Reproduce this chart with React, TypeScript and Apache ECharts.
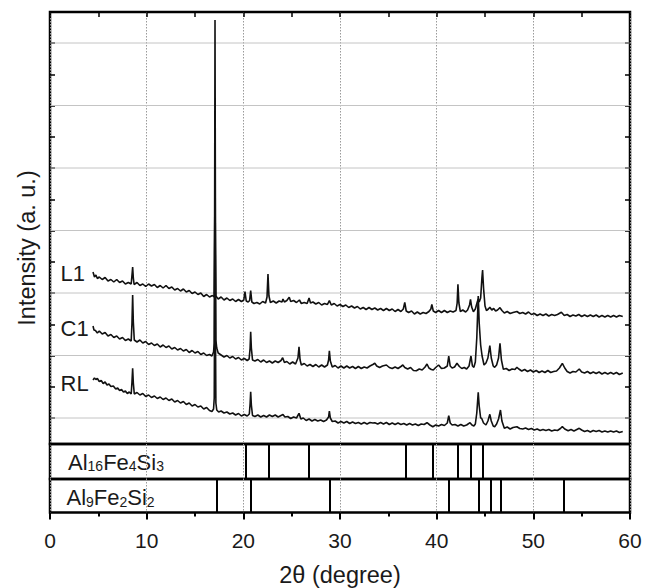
import React, { useEffect, useRef } from "react";
import * as echarts from "echarts";

// 2θ (degree) vs intensity (a.u., lowest gridline = 0, gridline step = 62.5)
const L1: [number, number][] = [
  [4.45,146],[4.6,141],[4.75,143],[4.9,139.5],[5.1,141],[5.4,138.5],[5.7,140.5],[6.0,137],[6.3,138.5],[6.6,136],
  [6.9,138.5],[7.2,135.5],[7.5,137],[7.8,134],[8.1,135.5],[8.4,134],[8.5,145],[8.55,151],[8.62,140],[8.7,133.5],
  [9.0,135.5],[9.3,132.5],[9.6,134],[9.9,131.5],[10.2,134],[10.5,132],[10.8,133.5],[11.1,130.5],[11.4,132.5],[11.7,130],
  [12.0,132.5],[12.3,129.5],[12.6,131],[12.9,128],[13.2,129.5],[13.5,127],[13.8,129],[14.1,126],[14.4,127.5],[14.7,124.5],
  [15.0,126],[15.3,123.5],[15.6,125],[15.9,121.5],[16.2,123.5],[16.5,121],[16.8,122.5],[16.98,121],[17.03,180],[17.07,234],
  [17.11,170],[17.16,122],[17.4,119],[17.7,121],[18.0,118],[18.3,120],[18.6,117.5],[18.9,119],[19.2,116.5],[19.5,118.5],
  [19.8,116.5],[20.05,118],[20.17,126.3],[20.3,117],[20.5,116],[20.65,117.5],[20.76,127.3],[20.88,116],[21.1,114.5],[21.4,115.5],
  [21.7,114],[22.0,116.5],[22.3,115],[22.45,121],[22.55,144],[22.65,122],[22.8,115.5],[23.1,117],[23.4,115],[23.7,117],
  [24.0,116],[24.1,119],[24.25,116],[24.5,117.5],[24.75,120.7],[24.9,116.5],[25.2,117.5],[25.5,115.5],[25.8,118],[26.0,114.5],
  [26.3,115.5],[26.6,114.5],[26.8,120],[26.95,115],[27.2,116],[27.5,114],[27.8,115.5],[28.1,113],[28.4,114.5],[28.7,113.5],
  [28.9,117.3],[29.1,113],[29.4,114.5],[29.7,112],[30.0,113.5],[30.3,111.5],[30.6,113],[30.9,110.5],[31.2,112],[31.5,110],
  [31.8,111.5],[32.1,109],[32.4,110.5],[32.7,108.5],[33.0,110.5],[33.3,108.5],[33.6,110],[33.9,108],[34.2,109.5],[34.5,107.5],
  [34.8,109.5],[35.1,107.5],[35.4,109],[35.7,106.5],[36.0,108.5],[36.3,106.5],[36.55,109],[36.7,115.7],[36.85,107],[37.1,105.5],
  [37.4,107],[37.7,104],[38.0,106],[38.3,104],[38.6,105.5],[38.9,104.5],[39.2,106.5],[39.4,109],[39.5,113.7],[39.65,107],
  [39.9,105.5],[40.2,107.5],[40.5,105.5],[40.8,107.5],[41.1,105.5],[41.4,107],[41.7,106],[42.0,107.5],[42.12,115],[42.2,133.7],
  [42.3,115],[42.45,106.5],[42.7,108],[43.0,106],[43.2,108],[43.4,113],[43.5,118.7],[43.62,111],[43.8,106.3],[44.0,109],
  [44.2,116],[44.3,119],[44.4,116],[44.55,120],[44.68,140],[44.75,148],[44.85,130],[45.0,112],[45.15,107.5],[45.35,109],
  [45.5,110.7],[45.7,108],[45.9,109.5],[46.1,107],[46.3,108],[46.55,110.3],[46.75,107.5],[47.0,105],[47.3,106.5],[47.6,104.5],
  [47.9,105.5],[48.3,106.5],[48.6,104.5],[48.9,105.5],[49.2,104],[49.5,106],[49.8,103.5],[50.1,104.5],[50.4,102.5],[50.7,104],
  [51.0,102.5],[51.3,104],[51.6,102],[51.9,103.5],[52.2,102.5],[52.5,103.5],[52.9,105.7],[53.2,102.5],[53.5,103.5],[53.8,101.5],
  [54.1,103],[54.4,102],[54.7,103.5],[55.0,101.5],[55.3,103],[55.6,101.5],[55.9,103],[56.2,101.5],[56.5,103],[56.8,101],
  [57.1,102.5],[57.4,101],[57.7,102.5],[58.0,101],[58.3,102.5],[58.6,101],[58.9,102.5],[59.25,101.5]
];

const C1: [number, number][] = [
  [4.45,92],[4.55,88],[4.7,87.5],[4.9,85],[5.1,87],[5.4,84],[5.7,85.5],[6.0,82],[6.3,83.5],[6.6,80.5],
  [6.9,82],[7.2,79],[7.5,80.5],[7.8,77.5],[8.1,79],[8.4,77],[8.48,95],[8.55,123],[8.62,96],[8.72,78],
  [9.0,76],[9.3,78],[9.6,75],[9.9,76.5],[10.2,73.5],[10.5,75],[10.8,72.5],[11.1,74],[11.4,71],[11.7,73],
  [12.0,70.5],[12.3,72],[12.6,69],[12.9,70.5],[13.2,68],[13.5,69.5],[13.8,67],[14.1,68.5],[14.4,65.5],[14.7,67.5],
  [15.0,65],[15.3,66.5],[15.6,63.5],[15.9,65],[16.2,62.5],[16.5,63.5],[16.75,62],[16.92,66],[16.99,75],[17.03,200],
  [17.07,398],[17.11,220],[17.16,78],[17.25,70],[17.4,65],[17.7,63],[18.0,61],[18.3,62.5],[18.6,60],[18.9,61.5],
  [19.2,59],[19.5,60.5],[19.8,58],[20.1,59.5],[20.4,57.5],[20.6,59],[20.7,70],[20.76,86.3],[20.83,70],[20.95,58],
  [21.2,57],[21.5,58.5],[21.8,56],[22.1,58],[22.4,55.5],[22.7,57],[23.0,55],[23.3,57],[23.6,55.5],[23.9,57.5],
  [24.07,60.3],[24.25,55.5],[24.5,56.5],[24.8,54],[25.1,56],[25.4,54],[25.65,60],[25.76,71.3],[25.87,58],[26.0,53],
  [26.3,54.5],[26.6,52],[26.9,53.5],[27.2,51.5],[27.5,53.5],[27.8,51],[28.1,53],[28.4,51],[28.7,53],[28.82,58],
  [28.9,67.3],[29.0,57],[29.2,51],[29.5,52.5],[29.8,50],[30.1,52],[30.4,50],[30.7,52],[31.0,50],[31.3,51.5],
  [31.6,49.5],[31.9,51.5],[32.2,49.5],[32.5,51],[32.8,50],[33.1,52],[33.4,53.5],[33.6,54.7],[33.8,52],[34.1,50.5],
  [34.4,52],[34.8,53],[35.1,50.5],[35.4,49.5],[35.7,51],[36.0,49.5],[36.3,51.5],[36.5,53],[36.7,50.5],[37.0,49],
  [37.3,50.5],[37.6,47.5],[37.9,47.3],[38.2,49],[38.5,48],[38.8,51],[39.0,54],[39.2,50],[39.45,48.5],[39.65,48],
  [39.9,50.5],[40.2,53],[40.5,49.5],[40.8,50],[41.1,52],[41.25,62],[41.4,52],[41.6,50],[41.85,51],[42.1,54.7],
  [42.35,51.5],[42.6,49.5],[42.85,50.5],[43.1,49],[43.35,52],[43.55,62],[43.7,52],[43.85,50.7],[44.0,56],[44.15,80],
  [44.3,122],[44.4,95],[44.55,73],[44.7,62],[44.9,53],[45.1,55],[45.3,60],[45.5,72.3],[45.65,60],[45.85,52],
  [46.0,50.7],[46.2,53],[46.4,60],[46.55,74.7],[46.7,58],[46.9,48.7],[47.2,49.5],[47.5,47.5],[47.8,49],[48.1,48.5],
  [48.3,50.7],[48.5,49],[48.8,47],[49.1,48.5],[49.4,46.5],[49.7,48],[50.0,46],[50.3,47.5],[50.6,45.5],[50.9,47],
  [51.2,45.5],[51.5,47.5],[51.8,45.5],[52.1,46.5],[52.4,47],[52.7,50],[53.0,54.7],[53.25,50],[53.5,46.5],[53.8,45],
  [54.1,46.5],[54.4,46],[54.75,49],[55.0,46],[55.3,45],[55.6,46.5],[55.9,44.5],[56.2,46],[56.5,44.5],[56.8,46],
  [57.1,44],[57.4,45.5],[57.7,44],[58.0,45.5],[58.3,44],[58.6,45.5],[58.9,43.5],[59.25,45]
];

const RL: [number, number][] = [
  [4.45,38],[4.6,40],[4.75,38.5],[4.9,39.5],[5.1,36.5],[5.3,37.5],[5.5,34.5],[5.7,36],[5.9,33],[6.1,34],
  [6.3,31.5],[6.55,32],[6.8,29],[7.0,30],[7.2,27.5],[7.4,28.5],[7.6,26],[7.8,27],[8.0,24.5],[8.2,26],
  [8.4,24],[8.48,36],[8.55,49.7],[8.62,35],[8.72,24],[9.0,25.5],[9.3,23],[9.6,24.5],[9.9,21.5],[10.2,23],
  [10.5,20.5],[10.8,22],[11.1,19.5],[11.4,21],[11.7,18.5],[12.0,20],[12.3,17.5],[12.6,19],[12.9,16],[13.2,17.5],
  [13.5,15],[13.8,16.5],[14.1,13.5],[14.4,15],[14.7,12],[15.0,13.5],[15.3,11],[15.6,12],[15.9,9],[16.2,10.5],
  [16.5,7.5],[16.75,6.5],[16.92,9],[16.99,20],[17.03,110],[17.07,158],[17.11,100],[17.16,15],[17.25,8],[17.45,6],
  [17.7,7],[18.0,5],[18.3,6],[18.6,4],[18.9,5],[19.2,3],[19.5,4.5],[19.8,2],[20.1,3.5],[20.4,2],
  [20.62,4],[20.7,14],[20.76,26.3],[20.83,13],[20.95,2.5],[21.2,1.5],[21.5,3],[21.8,1],[22.1,2.5],[22.4,1],
  [22.7,3],[23.0,1.5],[23.3,3],[23.6,1],[23.9,2.5],[24.1,3.5],[24.3,1],[24.6,1.5],[24.9,-0.5],[25.2,1],
  [25.5,0],[25.76,4.7],[25.95,-1],[26.2,0],[26.5,-2.5],[26.8,-1],[27.1,-3],[27.4,-1.5],[27.7,-3],[28.0,-2],
  [28.3,-3.5],[28.6,-2],[28.82,1],[28.9,7],[29.0,0],[29.2,-3.5],[29.5,-3],[29.8,-5],[30.1,-3.5],[30.4,-5],
  [30.7,-3.5],[31.0,-5.5],[31.3,-4],[31.6,-5.5],[31.9,-4.5],[32.2,-6],[32.5,-4.5],[32.8,-6],[33.1,-4.5],[33.4,-5],
  [33.6,-4.7],[33.9,-6],[34.2,-4.5],[34.5,-6],[34.8,-4.5],[35.1,-6.5],[35.4,-5],[35.7,-6.5],[36.0,-5],[36.3,-6.5],
  [36.6,-5.5],[36.9,-7],[37.2,-5.5],[37.5,-7],[37.8,-6],[38.1,-7.5],[38.4,-6],[38.7,-6.5],[39.0,-4.7],[39.3,-7],
  [39.6,-8.7],[39.9,-7],[40.2,-8],[40.5,-6.5],[40.8,-7.5],[41.1,-5],[41.25,2.3],[41.4,-5],[41.6,-7],[41.9,-6.5],
  [42.2,-8],[42.5,-6.5],[42.8,-8],[43.1,-7],[43.45,-4.7],[43.65,-7],[43.85,-8],[44.0,-6],[44.15,5],[44.3,25.7],
  [44.4,12],[44.55,0],[44.65,-0.3],[44.85,-5],[45.1,-7],[45.3,-3],[45.5,3.7],[45.65,-3],[45.85,-8],[46.0,-8.7],
  [46.2,-6],[46.4,-1],[46.6,8],[46.75,-3],[47.0,-10.3],[47.3,-9],[47.6,-11],[47.9,-9.5],[48.3,-8.7],[48.6,-10.5],
  [48.9,-11],[49.2,-10],[49.5,-11.5],[49.8,-10.5],[50.1,-12],[50.4,-11],[50.7,-12.5],[51.0,-11.5],[51.3,-12.5],[51.6,-11.5],
  [51.9,-13],[52.2,-12],[52.5,-12.5],[52.8,-10.5],[53.0,-8.7],[53.25,-11],[53.6,-12.7],[53.9,-11.5],[54.2,-13],[54.5,-11.5],
  [54.75,-10.3],[55.0,-12],[55.3,-13.5],[55.6,-12.5],[55.9,-14],[56.2,-12.5],[56.5,-13.5],[56.8,-12.5],[57.1,-14],[57.4,-13],
  [57.7,-14],[58.0,-13],[58.3,-14],[58.6,-13],[58.9,-14.5],[59.25,-13.5]
];

const traceNames = ["L1", "C1", "RL"];
// reference line positions (2θ) of the two phases
const Al16Fe4Si3 = [20.2, 22.6, 26.8, 36.8, 39.6, 42.2, 43.5, 44.8];
const Al9Fe2Si2 = [17.2, 20.8, 28.9, 41.3, 44.35, 45.55, 46.6, 53.1];
const yMin = -26;
const yMax = 406;
const yGridValues = [0, 62.5, 125, 187.5, 250, 312.5, 375];
const yTickStep = 31.25;
const xTickLabels = [0, 10, 20, 30, 40, 50, 60];

const FONT = "'Liberation Sans', Arial, Helvetica, sans-serif";
const TXT = "#1a1a1a";
const GRIDC = "#9a9a9a";
const HGRIDC = "#c4c4c4";

export default function App() {
  const ref = useRef<HTMLDivElement>(null);
  useEffect(() => {
    document.body.style.margin = "0";
    if (!ref.current) return;
    const chart = echarts.init(ref.current, undefined, { renderer: "svg" });
    const grid = (top: number, height: number) => ({
      left: 50, top, width: 580, height, show: true,
      borderColor: "#000", borderWidth: 2.5, backgroundColor: "transparent",
    });
    const vSplit = { show: true, lineStyle: { color: GRIDC, width: 1, type: [1.5, 1.5] as any } };
    const hiddenX = (gridIndex: number) => ({
      type: "value", gridIndex, min: 0, max: 60, interval: 10,
      axisLine: { show: false, onZero: false }, axisTick: { show: false }, axisLabel: { show: false },
      splitLine: vSplit,
    });
    const yMain = (position: string) => ({
      type: "value", gridIndex: 0, position, min: yMin, max: yMax,
      minInterval: yTickStep, maxInterval: yTickStep,
      axisLine: { show: false, onZero: false },
      axisTick: { show: true, inside: true, length: 5, lineStyle: { color: "#000", width: 1.5 } },
      axisLabel: { show: false }, splitLine: { show: false },
    });
    const phaseY = (gridIndex: number) => ({
      type: "value", gridIndex, min: 0, max: 1, show: false,
      axisLine: { show: false, onZero: false }, axisTick: { show: false }, axisLabel: { show: false }, splitLine: { show: false },
    });
    const traces = [L1, C1, RL];
    const baseGraphic: any[] = [
      {
        type: "text", x: 27, y: 248, rotation: Math.PI / 2,
        style: { text: "Intensity (a. u.)", fontSize: 23.5, fontFamily: FONT, fill: TXT, align: "center", verticalAlign: "middle" },
      },
      ...traceNames.map((t, i) => ({
        type: "text", x: 60.5, y: [273.5, 328, 383][i],
        style: { text: t, fontSize: 22, fontFamily: FONT, fill: TXT, align: "left", verticalAlign: "middle" },
      })),
      ...[
        ["{m|Al}{s|16}{m|Fe}{s|4}{m|Si}{s|3}", 68, 441],
        ["{m|Al}{s|9}{m|Fe}{s|2}{m|Si}{s|2}", 66.5, 476.5],
      ].map(([text, x, y]) => ({
        type: "text", x, y,
        style: {
          text, fontFamily: FONT, fill: TXT, align: "left", verticalAlign: "top",
          rich: {
            m: { fontSize: 22, lineHeight: 32, verticalAlign: "bottom", fill: TXT, color: TXT, fontFamily: FONT },
            s: { fontSize: 14, lineHeight: 14, verticalAlign: "bottom", fill: TXT, color: TXT, fontFamily: FONT },
          },
        },
      })),
    ];
    const option: any = {
      animation: false,
      textStyle: { fontFamily: FONT, color: TXT },
      grid: [grid(12, 432), grid(444, 35), grid(479, 33.5)],
      xAxis: [
        hiddenX(0),
        {
          type: "value", gridIndex: 0, position: "top", min: 0, max: 60, interval: 5,
          axisLine: { show: false, onZero: false }, axisLabel: { show: false }, splitLine: { show: false },
          axisTick: { show: true, inside: true, length: 5, lineStyle: { color: "#000", width: 1.5 } },
        },
        hiddenX(1),
        {
          type: "value", gridIndex: 2, min: 0, max: 60, interval: 10,
          axisLine: { show: false, onZero: false },
          axisTick: { show: true, inside: false, length: 7, lineStyle: { color: "#000", width: 2 } },
          minorTick: { show: true, splitNumber: 2, length: 4, lineStyle: { color: "#000", width: 2 } },
          axisLabel: {
            show: true, fontSize: 21, margin: 17, color: TXT, fontFamily: FONT,
            formatter: (v: number) => (xTickLabels.includes(v) ? String(v) : ""),
          },
          splitLine: vSplit,
          name: "2θ (degree)", nameLocation: "middle", nameGap: 50,
          nameTextStyle: { fontSize: 23.5, color: TXT, fontFamily: FONT },
        },
      ],
      yAxis: [yMain("left"), yMain("right"), phaseY(1), phaseY(2)],
      series: [
        ...yGridValues.map((v) => ({
          type: "line", xAxisIndex: 0, yAxisIndex: 0, data: [[0.05, v], [59.95, v]],
          showSymbol: false, symbol: "none", silent: true, z: 2,
          lineStyle: { color: HGRIDC, width: 1, type: "solid" },
        })),
        ...traces.map((d, i) => ({
          name: traceNames[i], type: "line", xAxisIndex: 0, yAxisIndex: 0, data: d,
          showSymbol: false, symbol: "none", silent: true, z: 3,
          lineStyle: { color: "#111", width: 1.6 },
        })),
        ...[Al16Fe4Si3, Al9Fe2Si2].map((vals, i) => ({
          type: "line", xAxisIndex: 2 + i, yAxisIndex: 2 + i, data: [[0, 0]],
          showSymbol: false, symbol: "none", silent: true, lineStyle: { opacity: 0 },
          markLine: {
            silent: true, symbol: "none", label: { show: false },
            lineStyle: { color: "#000", width: 2, type: "solid" },
            data: vals.map((v) => ({ xAxis: v })),
          },
        })),
      ],
      graphic: baseGraphic,
    };
    chart.setOption(option);
    return () => chart.dispose();
  }, []);
  return <div ref={ref} style={{ width: 646, height: 588 }} />;
}
